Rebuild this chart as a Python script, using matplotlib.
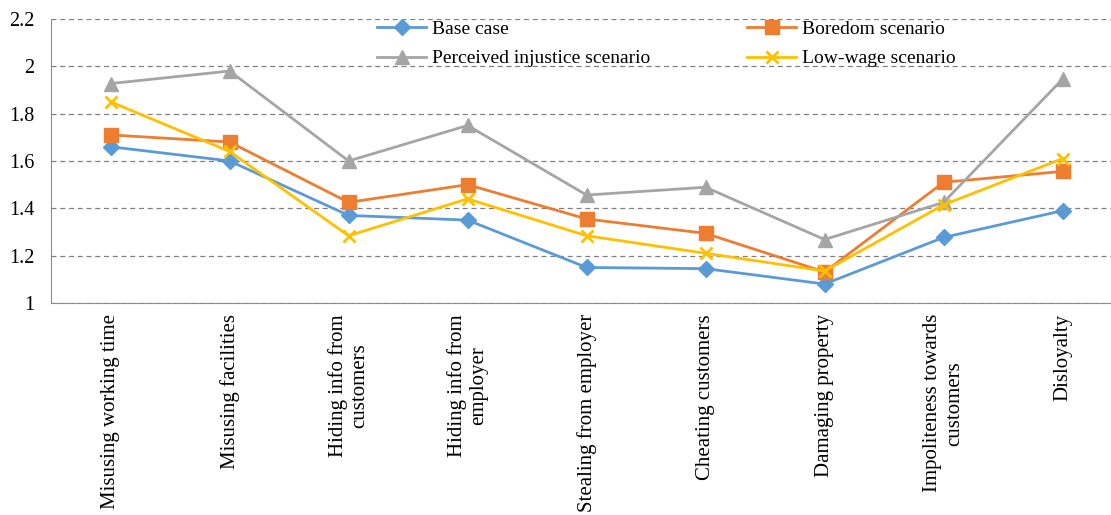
import matplotlib.pyplot as plt

# behaviour categories on the x axis
categories = [
    "Misusing working time",
    "Misusing facilities",
    "Hiding info from\ncustomers",
    "Hiding info from\nemployer",
    "Stealing from employer",
    "Cheating customers",
    "Damaging property",
    "Impoliteness towards\ncustomers",
    "Disloyalty",
]

base_case = [1.66, 1.60, 1.37, 1.35, 1.15, 1.145, 1.08, 1.277, 1.39]
boredom = [1.71, 1.68, 1.425, 1.50, 1.355, 1.294, 1.131, 1.51, 1.556]
injustice = [1.927, 1.98, 1.60, 1.75, 1.456, 1.489, 1.268, 1.425, 1.946]
low_wage = [1.85, 1.64, 1.284, 1.44, 1.284, 1.21, 1.135, 1.415, 1.61]

yticks = [1, 1.2, 1.4, 1.6, 1.8, 2, 2.2]
ytick_labels = ["1", "1.2", "1.4", "1.6", "1.8", "2", "2.2"]

plt.rcParams['font.family'] = ['Liberation Serif', 'DejaVu Serif']

fig = plt.figure(figsize=(11.11, 5.15), dpi=100)
ax = fig.add_axes([0.046, 0.4117, 0.964, 0.5515])

x = list(range(len(categories)))
l1, = ax.plot(x, base_case, color='#5B9BD5', lw=2, marker='D', ms=8, label='Base case')
l2, = ax.plot(x, boredom, color='#ED7D31', lw=2, marker='s', ms=10, label='Boredom scenario')
l3, = ax.plot(x, injustice, color='#A5A5A5', lw=2, marker='^', ms=10, label='Perceived injustice scenario')
l4, = ax.plot(x, low_wage, color='#FFC000', lw=2, marker='x', ms=9, mew=2, label='Low-wage scenario')

ax.set_xlim(-0.5, len(categories) - 0.5)
ax.set_ylim(1, 2.2)
ax.set_yticks(yticks)
ax.set_yticklabels(ytick_labels, fontsize=14.5)
ax.set_xticks(x)
ax.set_xticklabels(categories, rotation=90, fontsize=15, va='top', ha='center',
                   multialignment='center')
ax.tick_params(axis='both', length=0)
ax.tick_params(axis='x', pad=8)
ax.tick_params(axis='y', pad=12)

ax.yaxis.grid(True, linestyle=(0, (4, 3)), color='#808080', lw=0.9)
ax.set_axisbelow(True)
for side in ['top', 'right']:
    ax.spines[side].set_visible(False)
ax.spines['left'].set_color('#8c8c8c')
ax.spines['bottom'].set_color('#8c8c8c')

# legend fills column by column, so order handles to read across rows
fig.legend(handles=[l1, l3, l2, l4], loc='upper left', bbox_to_anchor=(0.324, 0.994),
           ncol=2, frameon=False, fontsize=14, handlelength=2.5,
           columnspacing=5.0, handletextpad=0.3, labelspacing=0.6)

fig.savefig('out.png', dpi=100)
